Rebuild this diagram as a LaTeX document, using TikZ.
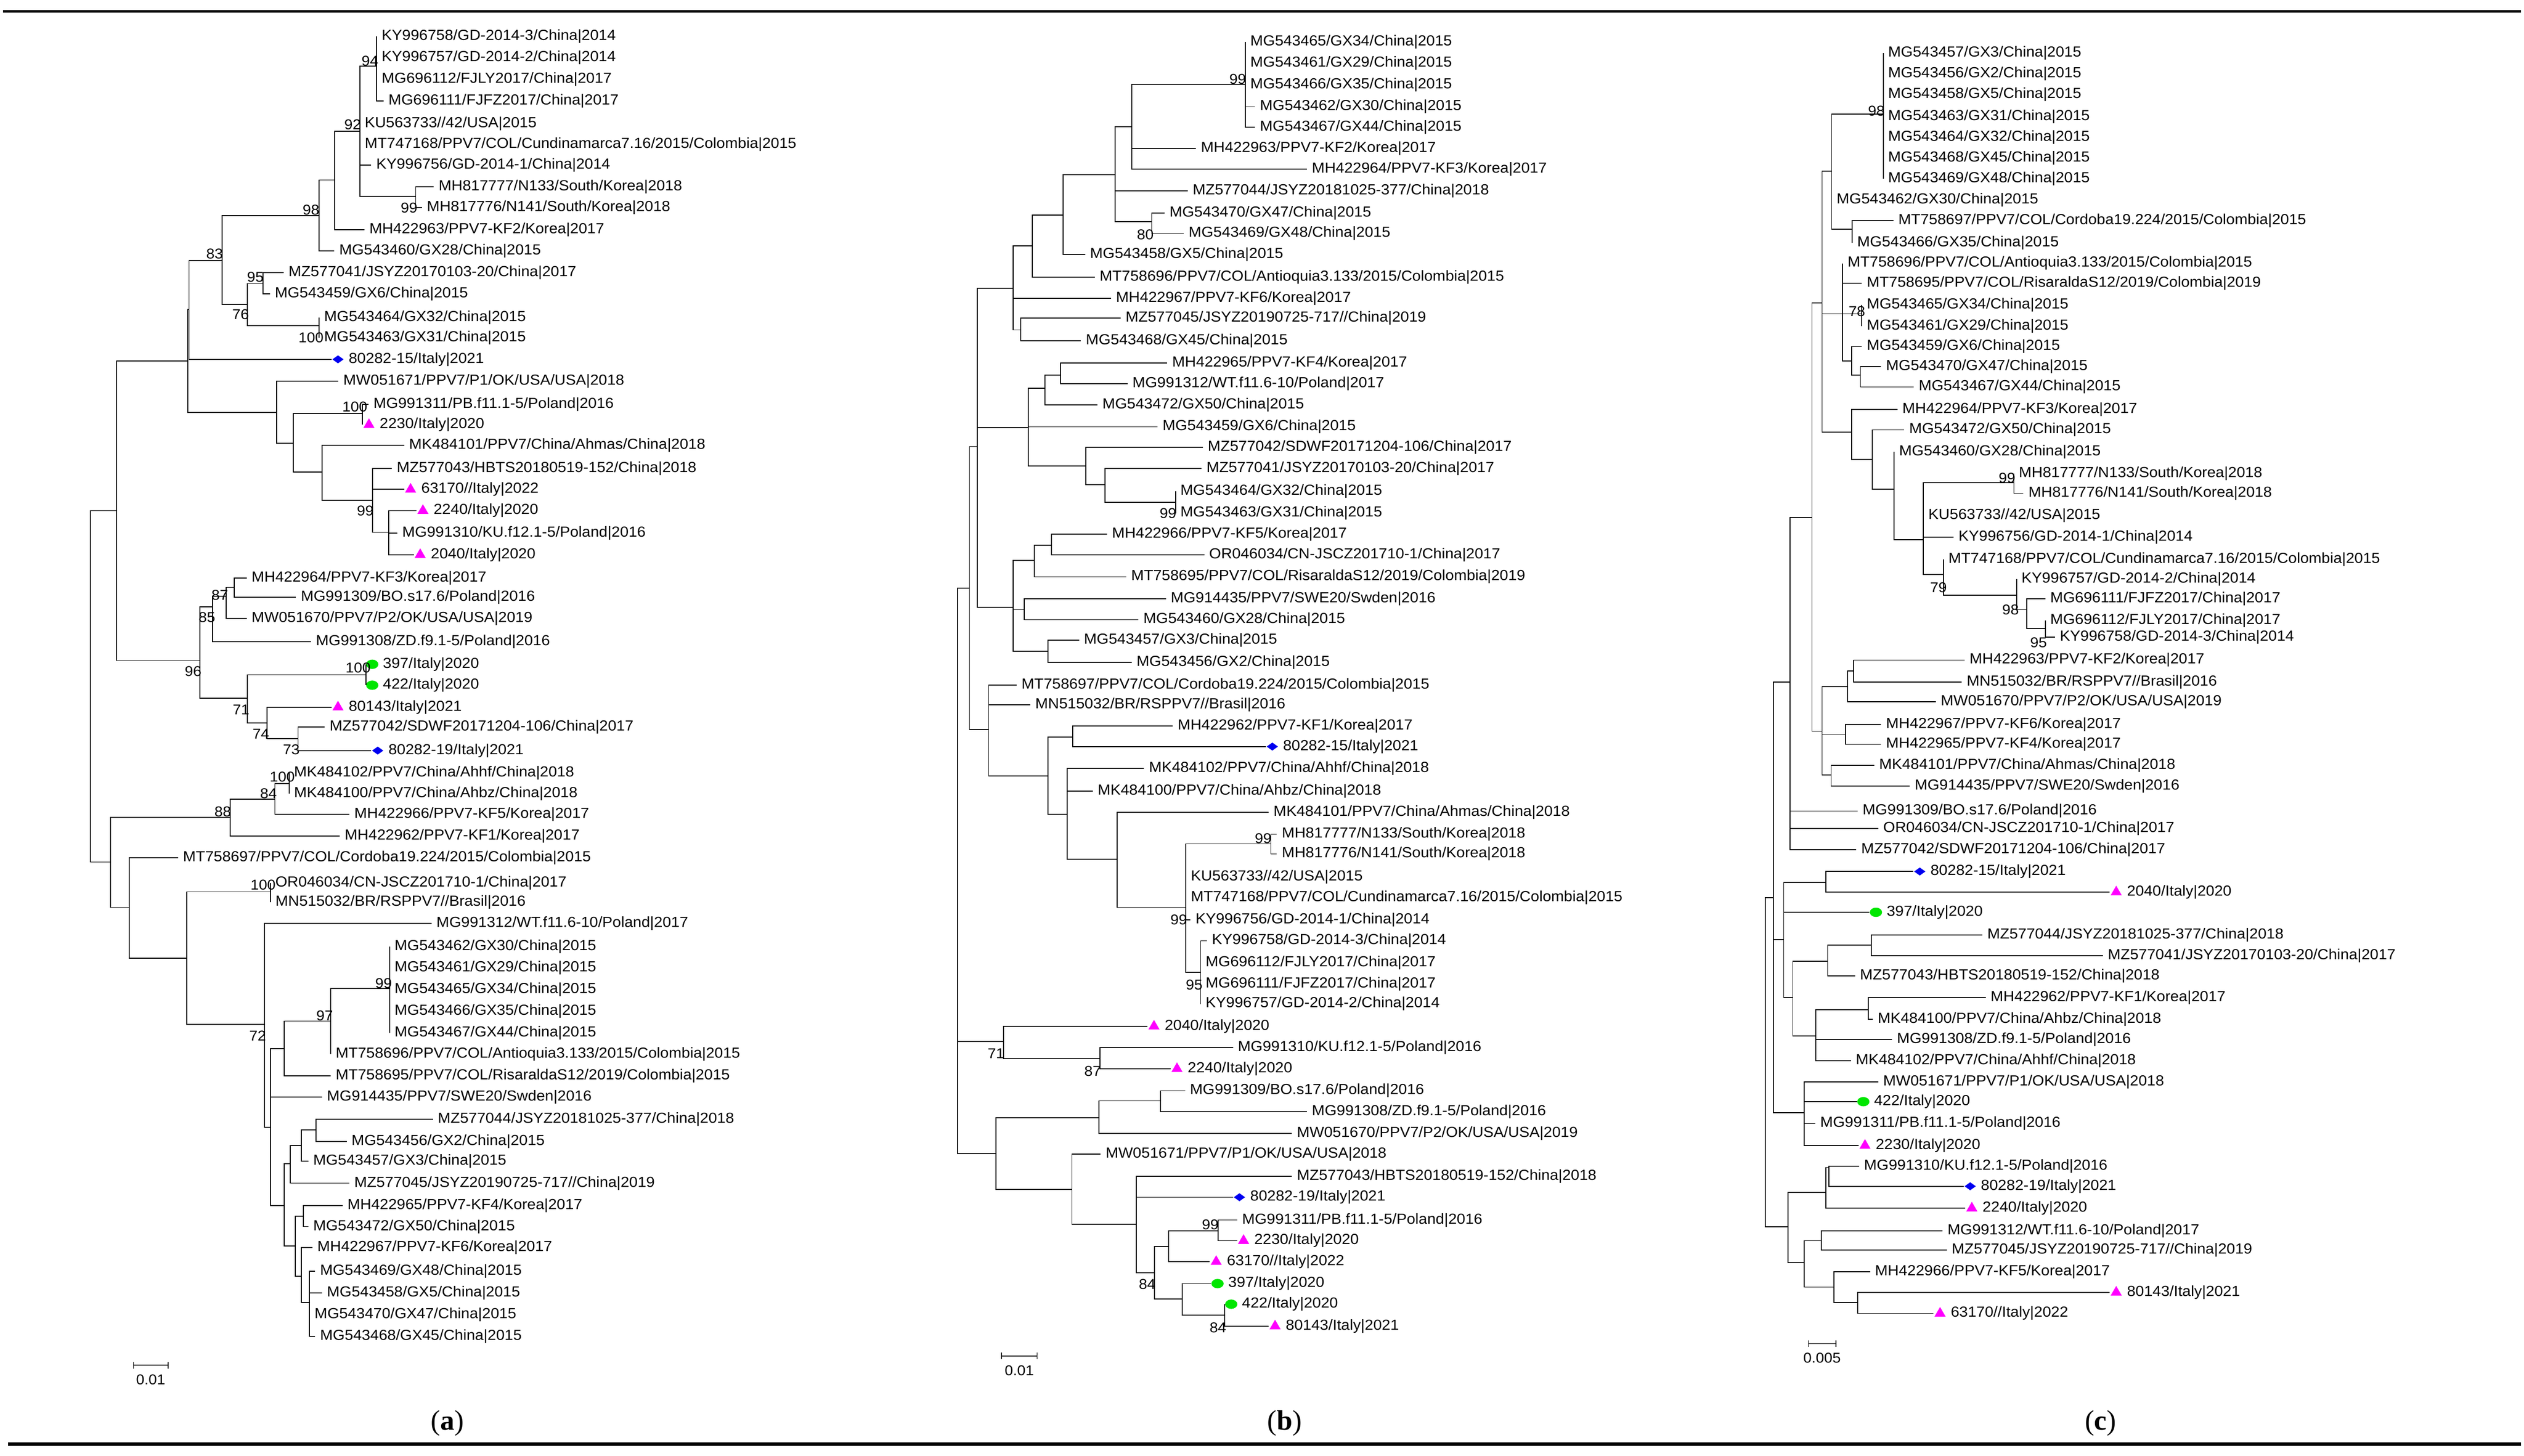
\documentclass[tikz,border=0pt]{standalone}
\usepackage{fontspec}
\setmainfont{Liberation Sans}
\newfontfamily\lblfont{Liberation Sans}[FakeStretch=1.05]
\newfontfamily\capfont{Liberation Serif}
\usetikzlibrary{shapes.geometric,calc}
\definecolor{mkM}{RGB}{255,0,255}
\definecolor{mkB}{RGB}{0,0,240}
\definecolor{mkG}{RGB}{0,230,0}
\newcounter{bsn}
\newcommand\zoomset[3]{\def\zox{#1}\def\zoy{#2}\def\zsy{#3}}
\newcommand\nd[3]{\coordinate (#1) at ({\zox+0.17019*(#2)},{\zoy+\zsy*(#3)});}
\newcommand\lf[4]{\coordinate (#1) at ({\zox+0.17019*(#2)},{\zoy+\zsy*(#3)}); \node[lbl] (#1t) at (#1) {#4};}
\newcommand\mk[5]{\coordinate (#1) at ({\zox+0.17019*(#2)},{\zoy+\zsy*(#3)}); \node[#4] (#1m) at ([xshift=1mm]#1) {}; \node[lbl,xshift=1.9mm] (#1t) at (#1) {#5};}
\newcommand\bs[3]{\stepcounter{bsn}\node[bsl] (bs\arabic{bsn}) at ({\zox+0.17019*(#1)},{\zoy+\zsy*(#2)}) {#3};}
\tikzset{
 lbl/.style={anchor=west,inner sep=0pt,xshift=0.7mm,font=\lblfont\fontsize{6.45}{7}\selectfont},
 bsl/.style={inner sep=0pt,font=\lblfont\fontsize{6.3}{7}\selectfont},
 br/.style={line width=0.4pt},
 tri/.style={regular polygon,regular polygon sides=3,fill=mkM,draw=none,minimum size=2.0mm,inner sep=0pt},
 dia/.style={diamond,fill=mkB,draw=none,minimum width=1.8mm,minimum height=1.3mm,inner sep=0pt},
 circ/.style={ellipse,fill=mkG,draw=none,minimum width=1.9mm,minimum height=1.45mm,inner sep=0pt},
 captxt/.style={font=\capfont\fontsize{12.5}{14}\selectfont,inner sep=0pt}
}
\begin{document}
\begin{tikzpicture}[x=0.25mm,y=-0.25mm]
\useasboundingbox (0,0) rectangle (1568,904.2);
\fill[white] (0,0) rectangle (1568,904.2);
\draw[line width=0.35mm] (2,7) -- (1566,7);
\draw[line width=0.6mm] (5,897) -- (1566,897);
\node[captxt] (capa) at (278,884) {(\textbf{a})};
\node[captxt] (capb) at (798,884) {(\textbf{b})};
\node[captxt] (capc) at (1305,884) {(\textbf{c})};
% ================= TREE A =================
\zoomset{40.03}{9.70}{0.23208}
\lf{a1}{1140}{55}{KY996758/GD-2014-3/China|2014}
\lf{a2}{1140}{113}{KY996757/GD-2014-2/China|2014}
\lf{a3}{1140}{170}{MG696112/FJLY2017/China|2017}
\lf{a4}{1165}{228}{MG696111/FJFZ2017/China|2017}
\lf{a5}{1078}{290}{KU563733//42/USA|2015}
\lf{a6}{1078}{345}{MT747168/PPV7/COL/Cundinamarca7.16/2015/Colombia|2015}
\lf{a7}{1120}{400}{KY996756/GD-2014-1/China|2014}
\lf{a8}{1348}{458}{MH817777/N133/South/Korea|2018}
\lf{a9}{1305}{514}{MH817776/N141/South/Korea|2018}
\lf{a10}{1095}{573}{MH422963/PPV7-KF2/Korea|2017}
\lf{a11}{985}{630}{MG543460/GX28/China|2015}
\lf{a12}{800}{688}{MZ577041/JSYZ20170103-20/China|2017}
\lf{a13}{750}{745}{MG543459/GX6/China|2015}
\lf{a14}{930}{808}{MG543464/GX32/China|2015}
\lf{a15}{930}{862}{MG543463/GX31/China|2015}
\mk{a16}{975}{920}{dia}{80282-15/Italy|2021}
\lf{a17}{1000}{978}{MW051671/PPV7/P1/OK/USA/USA|2018}
\lf{a18}{1110}{1040}{MG991311/PB.f11.1-5/Poland|2016}
\mk{a19}{1088}{1095}{tri}{2230/Italy|2020}
\lf{a20}{1240}{1150}{MK484101/PPV7/China/Ahmas/China|2018}
\lf{a21}{1195}{1212}{MZ577043/HBTS20180519-152/China|2018}
\mk{a22}{1240}{1268}{tri}{63170//Italy|2022}
\mk{a23}{1285}{1325}{tri}{2240/Italy|2020}
\lf{a24}{1215}{1385}{MG991310/KU.f12.1-5/Poland|2016}
\mk{a25}{1275}{1443}{tri}{2040/Italy|2020}
\lf{a26}{665}{1505}{MH422964/PPV7-KF3/Korea|2017}
\nd{aA}{190}{1325}\nd{aB}{450}{924}\nd{aC}{455}{787}\nd{aD}{575}{655}
\nd{aH}{930}{535}\nd{aI}{987}{440}\nd{aJ}{1078}{310}\nd{aK}{1140}{135}
\nd{aL}{1282}{484}\nd{aE}{668}{773}\nd{aF}{725}{717}\nd{aG}{930}{830}
\nd{aM}{775}{1062}\nd{aN}{835}{1145}\nd{aO}{1088}{1065}\nd{aP}{940}{1222}
\nd{aQ}{1125}{1297}\nd{aR}{1183}{1383}
\bs{1115}{122}{94}\bs{1052}{292}{92}\bs{900}{520}{98}\bs{548}{638}{83}
\bs{697}{700}{95}\bs{643}{800}{76}\bs{900}{862}{100}\bs{1258}{514}{99}
\bs{1060}{1047}{100}\bs{1098}{1325}{99}
\zoomset{40.03}{363.9}{0.32491}
\lf{a27}{845}{22}{MG991309/BO.s17.6/Poland|2016}
\lf{a28}{665}{62}{MW051670/PPV7/P2/OK/USA/USA|2019}
\lf{a29}{900}{107}{MG991308/ZD.f9.1-5/Poland|2016}
\mk{a30}{1100}{150}{circ}{397/Italy|2020}
\mk{a31}{1100}{190}{circ}{422/Italy|2020}
\mk{a32}{975}{232}{tri}{80143/Italy|2021}
\lf{a33}{950}{270}{MZ577042/SDWF20171204-106/China|2017}
\mk{a34}{1120}{315}{dia}{80282-19/Italy|2021}
\lf{a35}{820}{358}{MK484102/PPV7/China/Ahhf/China|2018}
\lf{a36}{820}{397}{MK484100/PPV7/China/Ahbz/China|2018}
\lf{a37}{1040}{437}{MH422966/PPV7-KF5/Korea|2017}
\lf{a38}{1005}{478}{MH422962/PPV7-KF1/Korea|2017}
\lf{a39}{415}{520}{MT758697/PPV7/COL/Cordoba19.224/2015/Colombia|2015}
\lf{a40}{752}{568}{OR046034/CN-JSCZ201710-1/China|2017}
\lf{a41}{752}{605}{MN515032/BR/RSPPV7//Brasil|2016}
\lf{a42}{1340}{645}{MG991312/WT.f11.6-10/Poland|2017}
\lf{a43}{1187}{690}{MG543462/GX30/China|2015}
\lf{a44}{1187}{730}{MG543461/GX29/China|2015}
\lf{a45}{1187}{772}{MG543465/GX34/China|2015}
\lf{a46}{1187}{813}{MG543466/GX35/China|2015}
\lf{a47}{1187}{855}{MG543467/GX44/China|2015}
\lf{a48}{972}{895}{MT758696/PPV7/COL/Antioquia3.133/2015/Colombia|2015}
\lf{a49}{972}{937}{MT758695/PPV7/COL/RisaraldaS12/2019/Colombia|2015}
\lf{a50}{940}{977}{MG914435/PPV7/SWE20/Swden|2016}
\lf{a51}{1345}{1020}{MZ577044/JSYZ20181025-377/China|2018}
\lf{a52}{1030}{1062}{MG543456/GX2/China|2015}
\lf{a53}{890}{1100}{MG543457/GX3/China|2015}
\lf{a54}{1040}{1142}{MZ577045/JSYZ20190725-717//China|2019}
\lf{a55}{1015}{1185}{MH422965/PPV7-KF4/Korea|2017}
\lf{a56}{890}{1225}{MG543472/GX50/China|2015}
\lf{a57}{905}{1265}{MH422967/PPV7-KF6/Korea|2017}
\lf{a58}{915}{1310}{MG543469/GX48/China|2015}
\lf{a59}{940}{1352}{MG543458/GX5/China|2015}
\lf{a60}{895}{1393}{MG543470/GX47/China|2015}
\lf{a61}{915}{1435}{MG543468/GX45/China|2015}
\nd{aroot}{95}{191}\nd{aS}{495}{143}\nd{aT}{540}{40}\nd{aV}{590}{20}\nd{aW}{620}{3}
\nd{aU}{668}{215}\nd{aX}{1100}{170}\nd{aY}{740}{262}\nd{aZ}{853}{292}
\nd{aAA}{168}{528}\nd{aAB}{605}{443}\nd{aAD}{768}{408}\nd{aAE}{820}{378}
\nd{aAC}{237}{615}\nd{aAF}{447}{712}\nd{aAG}{752}{585}\nd{aAH}{730}{838}
\nd{aAI}{752}{1035}\nd{aAJ}{802}{885}\nd{aAL}{972}{832}\nd{aAM}{1187}{770}
\nd{aAK}{802}{1185}\nd{aAN}{825}{1105}\nd{aAP}{865}{1070}\nd{aAQ}{918}{1040}
\nd{aAO}{842}{1262}\nd{aAR}{872}{1205}\nd{aAS}{865}{1320}\nd{aAT}{895}{1370}
\bs{567}{18}{87}\bs{520}{60}{85}\bs{470}{163}{96}\bs{1072}{157}{100}
\bs{645}{237}{71}\bs{717}{283}{74}\bs{828}{313}{73}\bs{795}{365}{100}
\bs{745}{397}{84}\bs{578}{432}{88}\bs{725}{572}{100}\bs{705}{860}{72}
\bs{1165}{760}{99}\bs{950}{822}{97}
\nd{asb1}{252}{1490}\nd{asb2}{378}{1490}
\draw[br] (asb1) -- (asb2) (asb1)+(0,-2) -- +(0,2) (asb2)+(0,-2) -- +(0,2);
\node[bsl] (asbl) at ($(asb1)!0.5!(asb2)+(0,9)$) {0.01};
\foreach \p/\c in {aroot/aA,aroot/aAA,aA/aB,aA/aS,aB/aC,aB/aM,aC/aD,aC/a16,aD/aH,aD/aE,
 aH/aI,aH/a11,aI/aJ,aI/a10,aJ/aK,aJ/a5,aJ/a6,aJ/a7,aJ/aL,aK/a1,aK/a2,aK/a3,aK/a4,aL/a8,aL/a9,
 aE/aF,aE/aG,aF/a12,aF/a13,aG/a14,aG/a15,aM/a17,aM/aN,aN/aO,aN/aP,aO/a18,aO/a19,aP/a20,aP/aQ,
 aQ/a21,aQ/a22,aQ/aR,aR/a23,aR/a24,aR/a25,aS/aT,aS/aU,aT/aV,aT/a29,aV/aW,aV/a28,aW/a26,aW/a27,
 aU/aX,aU/aY,aX/a30,aX/a31,aY/a32,aY/aZ,aZ/a33,aZ/a34,aAA/aAB,aAA/aAC,aAB/aAD,aAB/a38,aAD/aAE,
 aAD/a37,aAE/a35,aAE/a36,aAC/a39,aAC/aAF,aAF/aAG,aAF/aAH,aAG/a40,aAG/a41,aAH/a42,aAH/aAI,
 aAI/aAJ,aAI/a50,aAI/aAK,aAJ/aAL,aAJ/a49,aAL/aAM,aAL/a48,aAM/a43,aAM/a44,aAM/a45,aAM/a46,aAM/a47,
 aAK/aAN,aAK/aAO,aAN/aAP,aAN/a54,aAP/aAQ,aAP/a53,aAQ/a51,aAQ/a52,aAO/aAR,aAO/aAS,aAR/a55,aAR/a56,
 aAS/a57,aAS/aAT,aAT/a58,aAT/a59,aAT/a60,aAT/a61}
 \draw[br] (\p) |- (\c);
% ================= TREE B =================
\zoomset{599.2}{9.70}{0.27231}
\lf{b1}{1025}{60}{MG543465/GX34/China|2015}
\lf{b2}{1025}{108}{MG543461/GX29/China|2015}
\lf{b3}{1025}{158}{MG543466/GX35/China|2015}
\lf{b4}{1060}{208}{MG543462/GX30/China|2015}
\lf{b5}{1060}{255}{MG543467/GX44/China|2015}
\lf{b6}{845}{303}{MH422963/PPV7-KF2/Korea|2017}
\lf{b7}{1250}{350}{MH422964/PPV7-KF3/Korea|2017}
\lf{b8}{815}{400}{MZ577044/JSYZ20181025-377/China|2018}
\lf{b9}{730}{450}{MG543470/GX47/China|2015}
\lf{b10}{800}{497}{MG543469/GX48/China|2015}
\lf{b11}{440}{545}{MG543458/GX5/China|2015}
\lf{b12}{475}{597}{MT758696/PPV7/COL/Antioquia3.133/2015/Colombia|2015}
\lf{b13}{535}{645}{MH422967/PPV7-KF6/Korea|2017}
\lf{b14}{570}{690}{MZ577045/JSYZ20190725-717//China|2019}
\lf{b15}{425}{742}{MG543468/GX45/China|2015}
\lf{b16}{740}{792}{MH422965/PPV7-KF4/Korea|2017}
\lf{b17}{595}{840}{MG991312/WT.f11.6-10/Poland|2017}
\lf{b18}{485}{888}{MG543472/GX50/China|2015}
\lf{b19}{705}{938}{MG543459/GX6/China|2015}
\lf{b20}{870}{985}{MZ577042/SDWF20171204-106/China|2017}
\lf{b21}{865}{1033}{MZ577041/JSYZ20170103-20/China|2017}
\lf{b22}{770}{1085}{MG543464/GX32/China|2015}
\lf{b23}{770}{1135}{MG543463/GX31/China|2015}
\lf{b24}{520}{1183}{MH422966/PPV7-KF5/Korea|2017}
\lf{b25}{875}{1230}{OR046034/CN-JSCZ201710-1/China|2017}
\lf{b26}{590}{1280}{MT758695/PPV7/COL/RisaraldaS12/2019/Colombia|2019}
\lf{b27}{735}{1330}{MG914435/PPV7/SWE20/Swden|2016}
\lf{b28}{635}{1378}{MG543460/GX28/China|2015}
\lf{b29}{418}{1425}{MG543457/GX3/China|2015}
\lf{b30}{610}{1475}{MG543456/GX2/China|2015}
\lf{b31}{190}{1527}{MT758697/PPV7/COL/Cordoba19.224/2015/Colombia|2015}
\nd{bRB1}{18}{1306}\nd{bB1}{47}{983}\nd{bB4}{178}{622}\nd{bB7}{248}{525}
\nd{bB9}{360}{455}\nd{bB10}{550}{363}\nd{bB11}{610}{253}\nd{bB13}{1025}{157}
\nd{bB12}{683}{470}\nd{bB8}{205}{717}\nd{bB5}{233}{940}\nd{bB14}{293}{850}
\nd{bB16}{350}{820}\nd{bB15}{442}{1027}\nd{bB17}{512}{1070}\nd{bB18}{770}{1110}
\nd{bB6}{178}{1350}\nd{bB19}{255}{1243}\nd{bB22}{318}{1208}\nd{bB20}{218}{1355}
\nd{bB21}{305}{1450}
\bs{997}{145}{99}\bs{660}{500}{80}\bs{743}{1135}{99}
\zoomset{599.2}{426.98}{0.27231}
\lf{b32}{240}{40}{MN515032/BR/RSPPV7//Brasil|2016}
\lf{b33}{760}{88}{MH422962/PPV7-KF1/Korea|2017}
\mk{b34}{1100}{135}{dia}{80282-15/Italy|2021}
\lf{b35}{655}{185}{MK484102/PPV7/China/Ahhf/China|2018}
\lf{b36}{468}{237}{MK484100/PPV7/China/Ahbz/China|2018}
\lf{b37}{1110}{285}{MK484101/PPV7/China/Ahmas/China|2018}
\lf{b38}{1140}{335}{MH817777/N133/South/Korea|2018}
\lf{b39}{1140}{380}{MH817776/N141/South/Korea|2018}
\lf{b40}{808}{432}{KU563733//42/USA|2015}
\lf{b41}{808}{480}{MT747168/PPV7/COL/Cundinamarca7.16/2015/Colombia|2015}
\lf{b42}{825}{530}{KY996756/GD-2014-1/China|2014}
\lf{b43}{885}{578}{KY996758/GD-2014-3/China|2014}
\lf{b44}{862}{628}{MG696112/FJLY2017/China|2017}
\lf{b45}{862}{677}{MG696111/FJFZ2017/China|2017}
\lf{b46}{862}{722}{KY996757/GD-2014-2/China|2014}
\mk{b47}{668}{773}{tri}{2040/Italy|2020}
\lf{b48}{980}{822}{MG991310/KU.f12.1-5/Poland|2016}
\mk{b49}{752}{870}{tri}{2240/Italy|2020}
\lf{b50}{805}{920}{MG991309/BO.s17.6/Poland|2016}
\lf{b51}{1250}{968}{MG991308/ZD.f9.1-5/Poland|2016}
\lf{b52}{1195}{1017}{MW051670/PPV7/P2/OK/USA/USA|2019}
\lf{b53}{497}{1065}{MW051671/PPV7/P1/OK/USA/USA|2018}
\lf{b54}{1195}{1115}{MZ577043/HBTS20180519-152/China|2018}
\mk{b55}{980}{1163}{dia}{80282-19/Italy|2021}
\lf{b56}{995}{1215}{MG991311/PB.f11.1-5/Poland|2016}
\mk{b57}{995}{1262}{tri}{2230/Italy|2020}
\mk{b58}{895}{1310}{tri}{63170//Italy|2022}
\mk{b59}{900}{1360}{circ}{397/Italy|2020}
\mk{b60}{950}{1407}{circ}{422/Italy|2020}
\mk{b61}{1110}{1457}{tri}{80143/Italy|2021}
\nd{broot}{-25}{415}\nd{bB2}{88}{96}\nd{bB23}{305}{202}\nd{bB24}{395}{113}
\nd{bB25}{375}{290}\nd{bB26}{557}{392}\nd{bB27}{808}{502}\nd{bB28}{1118}{357}
\nd{bB29}{862}{650}\nd{bB30}{142}{808}\nd{bB31}{495}{847}\nd{bB32}{115}{1063}
\nd{bB33}{490}{982}\nd{bB35}{715}{943}\nd{bB34}{392}{1145}\nd{bB36}{627}{1225}
\nd{bB37}{693}{1335}\nd{bB38}{745}{1275}\nd{bB40}{925}{1240}\nd{bB39}{795}{1395}
\nd{bB41}{950}{1432}
\bs{1090}{345}{99}\bs{782}{530}{99}\bs{838}{678}{95}\bs{115}{835}{71}
\bs{468}{875}{87}\bs{897}{1225}{99}\bs{667}{1362}{84}\bs{925}{1460}{84}
\nd{bsb1}{135}{1525}\nd{bsb2}{265}{1525}
\draw[br] (bsb1) -- (bsb2) (bsb1)+(0,-2) -- +(0,2) (bsb2)+(0,-2) -- +(0,2);
\node[bsl] (bsbl) at ($(bsb1)!0.5!(bsb2)+(0,9)$) {0.01};
\foreach \p/\c in {broot/bRB1,broot/bB30,broot/bB32,bRB1/bB1,bRB1/bB2,bB1/bB4,bB1/bB5,bB1/bB6,
 bB4/bB7,bB4/b13,bB4/bB8,bB7/bB9,bB7/b12,bB9/bB10,bB9/b11,bB10/bB11,bB10/b8,bB10/bB12,
 bB11/bB13,bB11/b6,bB11/b7,bB13/b1,bB13/b2,bB13/b3,bB13/b4,bB13/b5,bB12/b9,bB12/b10,bB8/b14,bB8/b15,
 bB5/bB14,bB5/b19,bB5/bB15,bB14/bB16,bB14/b18,bB16/b16,bB16/b17,bB15/b20,bB15/bB17,bB17/b21,
 bB17/bB18,bB18/b22,bB18/b23,bB6/bB19,bB6/bB20,bB6/bB21,bB19/bB22,bB19/b26,bB22/b24,bB22/b25,
 bB20/b27,bB20/b28,bB21/b29,bB21/b30,bB2/b31,bB2/b32,bB2/bB23,bB23/bB24,bB23/bB25,bB24/b33,bB24/b34,
 bB25/b35,bB25/b36,bB25/bB26,bB26/b37,bB26/bB27,bB27/bB28,bB27/b40,bB27/b41,bB27/b42,bB27/bB29,
 bB28/b38,bB28/b39,bB29/b43,bB29/b44,bB29/b45,bB29/b46,bB30/b47,bB30/bB31,bB31/b48,bB31/b49,
 bB32/bB33,bB32/bB34,bB33/bB35,bB33/b52,bB35/b50,bB35/b51,bB34/b53,bB34/bB36,bB36/b54,bB36/b55,
 bB36/bB37,bB37/bB38,bB37/bB39,bB38/bB40,bB38/b58,bB40/b56,bB40/b57,bB39/b59,bB39/bB41,bB41/b60,bB41/b61}
 \draw[br] (\p) |- (\c);
% ================= TREE C =================
\zoomset{1086.85}{9.70}{0.27231}
\lf{c1}{488}{85}{MG543457/GX3/China|2015}
\lf{c2}{488}{133}{MG543456/GX2/China|2015}
\lf{c3}{488}{180}{MG543458/GX5/China|2015}
\lf{c4}{488}{230}{MG543463/GX31/China|2015}
\lf{c5}{488}{278}{MG543464/GX32/China|2015}
\lf{c6}{488}{325}{MG543468/GX45/China|2015}
\lf{c7}{488}{372}{MG543469/GX48/China|2015}
\lf{c8}{300}{420}{MG543462/GX30/China|2015}
\lf{c9}{525}{468}{MT758697/PPV7/COL/Cordoba19.224/2015/Colombia|2015}
\lf{c10}{375}{518}{MG543466/GX35/China|2015}
\lf{c11}{340}{565}{MT758696/PPV7/COL/Antioquia3.133/2015/Colombia|2015}
\lf{c12}{410}{610}{MT758695/PPV7/COL/RisaraldaS12/2019/Colombia|2019}
\lf{c13}{410}{660}{MG543465/GX34/China|2015}
\lf{c14}{410}{708}{MG543461/GX29/China|2015}
\lf{c15}{410}{755}{MG543459/GX6/China|2015}
\lf{c16}{480}{800}{MG543470/GX47/China|2015}
\lf{c17}{600}{847}{MG543467/GX44/China|2015}
\lf{c18}{540}{898}{MH422964/PPV7-KF3/Korea|2017}
\lf{c19}{565}{945}{MG543472/GX50/China|2015}
\lf{c20}{528}{995}{MG543460/GX28/China|2015}
\lf{c21}{965}{1045}{MH817777/N133/South/Korea|2018}
\lf{c22}{1000}{1090}{MH817776/N141/South/Korea|2018}
\lf{c23}{635}{1140}{KU563733//42/USA|2015}
\lf{c24}{745}{1190}{KY996756/GD-2014-1/China|2014}
\lf{c25}{708}{1240}{MT747168/PPV7/COL/Cundinamarca7.16/2015/Colombia|2015}
\lf{c26}{975}{1285}{KY996757/GD-2014-2/China|2014}
\lf{c27}{1080}{1330}{MG696111/FJFZ2017/China|2017}
\lf{c28}{1080}{1380}{MG696112/FJLY2017/China|2017}
\lf{c29}{1115}{1418}{KY996758/GD-2014-3/China|2014}
\lf{c30}{785}{1470}{MH422963/PPV7-KF2/Korea|2017}
\lf{c31}{775}{1520}{MN515032/BR/RSPPV7//Brasil|2016}
\nd{cCB}{148}{1520}\nd{cCE}{228}{1145}\nd{cCF}{265}{655}\nd{cCL}{300}{355}
\nd{cCO}{488}{225}\nd{cCP}{375}{487}\nd{cCM}{340}{680}\nd{cCQ}{410}{680}
\nd{cCR}{372}{788}\nd{cCS}{405}{820}\nd{cCN}{372}{950}\nd{cCT}{448}{1012}
\nd{cCU}{528}{1080}\nd{cCV}{635}{1195}\nd{cCW}{965}{1065}\nd{cCX}{708}{1275}
\nd{cCY}{975}{1322}\nd{cCZ}{1012}{1355}\nd{cCZa}{1080}{1398}\nd{cCK}{380}{1495}
\bs{463}{218}{98}\bs{392}{675}{78}\bs{940}{1055}{99}\bs{690}{1305}{79}
\bs{953}{1355}{98}\bs{1055}{1430}{95}
\zoomset{1086.85}{426.98}{0.27231}
\lf{c32}{680}{33}{MW051670/PPV7/P2/OK/USA/USA|2019}
\lf{c33}{480}{85}{MH422967/PPV7-KF6/Korea|2017}
\lf{c34}{480}{130}{MH422965/PPV7-KF4/Korea|2017}
\lf{c35}{455}{178}{MK484101/PPV7/China/Ahmas/China|2018}
\lf{c36}{585}{225}{MG914435/PPV7/SWE20/Swden|2016}
\lf{c37}{395}{282}{MG991309/BO.s17.6/Poland|2016}
\lf{c38}{470}{322}{OR046034/CN-JSCZ201710-1/China|2017}
\lf{c39}{390}{370}{MZ577042/SDWF20171204-106/China|2017}
\mk{c40}{598}{420}{dia}{80282-15/Italy|2021}
\mk{c41}{1315}{467}{tri}{2040/Italy|2020}
\mk{c42}{438}{513}{circ}{397/Italy|2020}
\lf{c43}{850}{565}{MZ577044/JSYZ20181025-377/China|2018}
\lf{c44}{1290}{612}{MZ577041/JSYZ20170103-20/China|2017}
\lf{c45}{385}{658}{MZ577043/HBTS20180519-152/China|2018}
\lf{c46}{862}{708}{MH422962/PPV7-KF1/Korea|2017}
\lf{c47}{450}{757}{MK484100/PPV7/China/Ahbz/China|2018}
\lf{c48}{520}{803}{MG991308/ZD.f9.1-5/Poland|2016}
\lf{c49}{370}{852}{MK484102/PPV7/China/Ahhf/China|2018}
\lf{c50}{470}{900}{MW051671/PPV7/P1/OK/USA/USA|2018}
\mk{c51}{392}{945}{circ}{422/Italy|2020}
\lf{c52}{240}{995}{MG991311/PB.f11.1-5/Poland|2016}
\mk{c53}{398}{1045}{tri}{2230/Italy|2020}
\lf{c54}{400}{1092}{MG991310/KU.f12.1-5/Poland|2016}
\mk{c55}{782}{1138}{dia}{80282-19/Italy|2021}
\mk{c56}{788}{1188}{tri}{2240/Italy|2020}
\lf{c57}{705}{1240}{MG991312/WT.f11.6-10/Poland|2017}
\lf{c58}{720}{1283}{MZ577045/JSYZ20190725-717//China|2019}
\lf{c59}{440}{1333}{MH422966/PPV7-KF5/Korea|2017}
\mk{c60}{1315}{1380}{tri}{80143/Italy|2021}
\mk{c61}{672}{1428}{tri}{63170//Italy|2022}
\nd{croot}{58}{855}\nd{cCA}{87}{480}\nd{cCG}{265}{100}\nd{cCH}{358}{-2}
\nd{cCI}{350}{107}\nd{cCJ}{298}{200}\nd{cCC}{125}{575}\nd{cCDa}{278}{445}
\nd{cCEa}{158}{708}\nd{cCFa}{285}{625}\nd{cCHa}{445}{588}\nd{cCGa}{242}{795}
\nd{cCIa}{433}{735}\nd{cCD}{200}{970}\nd{cC2}{140}{1230}\nd{cC3}{278}{1152}
\nd{cC5}{290}{1095}\nd{cC4}{200}{1312}\nd{cC6}{262}{1262}\nd{cC7}{308}{1368}
\nd{cC8}{395}{1403}
\nd{csb1}{215}{1497}\nd{csb2}{315}{1497}
\draw[br] (csb1) -- (csb2) (csb1)+(0,-2) -- +(0,2) (csb2)+(0,-2) -- +(0,2);
\node[bsl] (csbl) at ($(csb1)!0.5!(csb2)+(0,9)$) {0.005};
\foreach \p/\c in {croot/cCA,croot/cC2,cCA/cCB,cCA/cCC,cCA/cCD,cCB/cCE,cCB/c37,cCB/c38,cCB/c39,
 cCE/cCF,cCE/cCG,cCF/cCL,cCF/cCM,cCF/cCN,cCL/cCO,cCL/c8,cCL/cCP,cCO/c1,cCO/c2,cCO/c3,cCO/c4,
 cCO/c5,cCO/c6,cCO/c7,cCP/c9,cCP/c10,cCM/c11,cCM/c12,cCM/cCQ,cCM/cCR,cCQ/c13,cCQ/c14,cCR/c15,
 cCR/cCS,cCS/c16,cCS/c17,cCN/c18,cCN/cCT,cCT/c19,cCT/cCU,cCU/c20,cCU/cCV,cCV/cCW,cCV/c23,cCV/c24,
 cCV/cCX,cCW/c21,cCW/c22,cCX/c25,cCX/cCY,cCY/c26,cCY/cCZ,cCZ/c27,cCZ/cCZa,cCZa/c28,cCZa/c29,
 cCG/cCH,cCG/cCI,cCG/cCJ,cCH/cCK,cCH/c32,cCK/c30,cCK/c31,cCI/c33,cCI/c34,cCJ/c35,cCJ/c36,
 cCC/cCDa,cCC/c42,cCC/cCEa,cCDa/c40,cCDa/c41,cCEa/cCFa,cCEa/cCGa,cCFa/cCHa,cCFa/c45,cCHa/c43,
 cCHa/c44,cCGa/cCIa,cCGa/c48,cCGa/c49,cCIa/c46,cCIa/c47,cCD/c50,cCD/c51,cCD/c52,cCD/c53,
 cC2/cC3,cC2/cC4,cC3/cC5,cC3/c56,cC5/c54,cC5/c55,cC4/cC6,cC4/cC7,cC6/c57,cC6/c58,cC7/c59,
 cC7/cC8,cC8/c60,cC8/c61}
 \draw[br] (\p) |- (\c);
\end{tikzpicture}
\end{document}
